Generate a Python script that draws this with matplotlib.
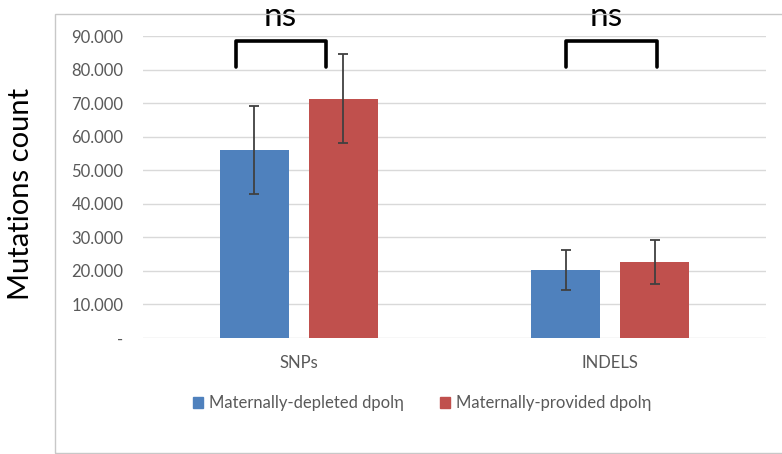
import numpy as np
import matplotlib.pyplot as plt
from matplotlib.patches import Rectangle, Patch

plt.rcParams['font.family'] = ['Lato', 'DejaVu Sans']

# data
categories = ['SNPs', 'INDELS']
series = ['Maternally-depleted dpolη', 'Maternally-provided dpolη']
depleted = [56000, 20200]
depleted_err = [13200, 5900]
provided = [71300, 22700]
provided_err = [13300, 6600]
yticks = [0, 10000, 20000, 30000, 40000, 50000, 60000, 70000, 80000, 90000]
ytick_labels = ['-', '10.000', '20.000', '30.000', '40.000', '50.000',
                '60.000', '70.000', '80.000', '90.000']
# significance brackets: left x, right x (category units), leg bottom, top
brackets = [(-0.2015, 0.0875), (0.8565, 1.149)]
bracket_y = (80700, 88400)
ns_x = [-0.06, 0.986]
ns_y = 92900

blue = '#4F81BD'
red = '#C0504D'
grey_txt = '#595959'

fig = plt.figure(figsize=(7.82, 4.54), dpi=100)
ax = fig.add_axes([0.1829, 0.2555, 0.7967, 0.6652])

x = np.arange(len(categories))
w = 0.222
off = 0.143
ekw = dict(ecolor='#404040', elinewidth=1.3, capthick=1.3)
ax.bar(x - off, depleted, w, color=blue, yerr=depleted_err, capsize=3.5,
       error_kw=ekw, zorder=3, label=series[0])
ax.bar(x + off, provided, w, color=red, yerr=provided_err, capsize=3.5,
       error_kw=ekw, zorder=3, label=series[1])

ax.set_xlim(-0.5, 1.5)
ax.set_ylim(0, 90000)
ax.set_yticks(yticks)
ax.set_yticklabels(ytick_labels)
ax.set_xticks(x)
ax.set_xticklabels(categories)
ax.tick_params(axis='y', length=0, pad=14, labelsize=12, labelcolor=grey_txt)
ax.tick_params(axis='x', length=0, pad=12, labelsize=12, labelcolor=grey_txt)
ax.grid(axis='y', color='#D9D9D9', lw=1, zorder=0)
for s in ax.spines.values():
    s.set_visible(False)

# brackets + ns labels
for (xl, xr), nx in zip(brackets, ns_x):
    ax.plot([xl, xl, xr, xr], [bracket_y[0], bracket_y[1], bracket_y[1], bracket_y[0]],
            color='black', lw=2.6, solid_joinstyle='round', solid_capstyle='round',
            zorder=4, clip_on=False)
    ax.text(nx, ns_y, 'ns', ha='center', va='baseline', fontsize=24,
            color='black', clip_on=False, zorder=5)

# chart border (right edge cropped off)
fig.patches.append(Rectangle((55 / 782, 1 - 453 / 454), 1.0, (453 - 14) / 454,
                             transform=fig.transFigure, fill=False,
                             edgecolor='#C8C8C8', lw=1, zorder=0))

fig.text(0.027, 0.573, 'Mutations count', rotation=90, ha='center', va='center',
         fontsize=21, color='black')

handles = [Patch(color=blue), Patch(color=red)]
fig.legend(handles, series, loc='center', bbox_to_anchor=(0.54, 0.112), ncol=2,
           frameon=False, fontsize=12, labelcolor=grey_txt, handlelength=0.6,
           handleheight=0.6, handletextpad=0.35, columnspacing=2.2)

fig.savefig('out.png', dpi=100)
